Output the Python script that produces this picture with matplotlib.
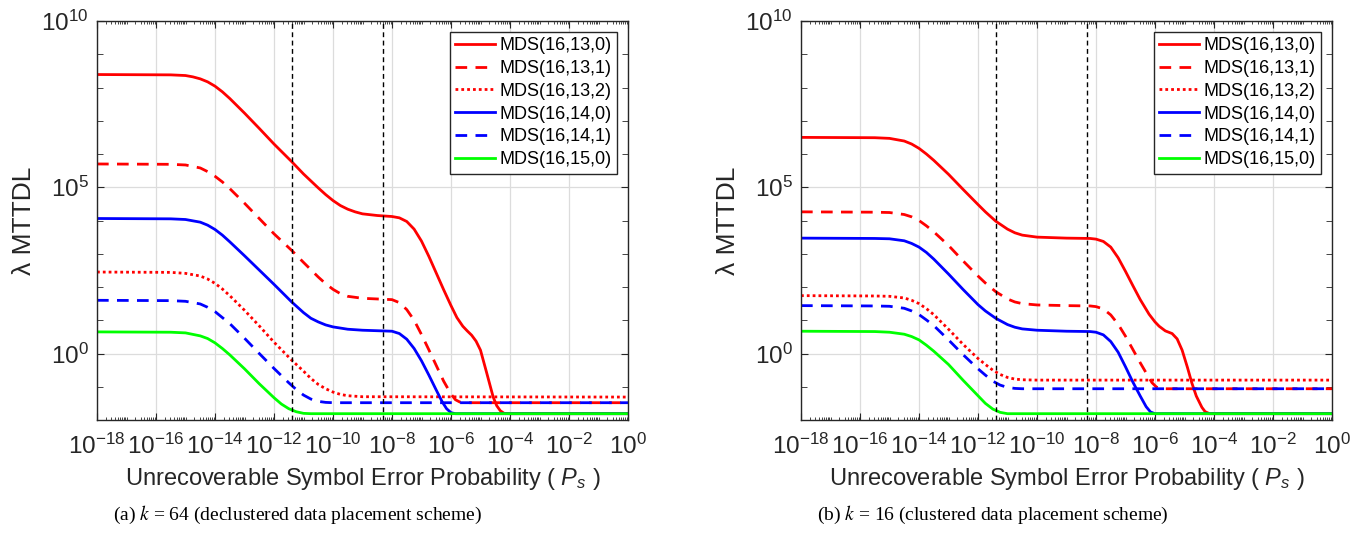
import numpy as np
import matplotlib
matplotlib.use("Agg")
import matplotlib.pyplot as plt
from matplotlib.ticker import FixedLocator, LogFormatterMathtext, NullFormatter

plt.rcParams['font.family'] = ['Liberation Sans', 'DejaVu Sans']
plt.rcParams['mathtext.fontset'] = 'custom'
plt.rcParams['mathtext.rm'] = 'Liberation Sans'
plt.rcParams['mathtext.it'] = 'Liberation Sans:italic'
plt.rcParams['mathtext.bf'] = 'Liberation Sans:bold'
plt.rcParams['axes.unicode_minus'] = False

# ---------------- data (log10 of Ps, log10 of lambda*MTTDL) ----------------
labels = ["MDS(16,13,0)", "MDS(16,13,1)", "MDS(16,13,2)",
          "MDS(16,14,0)", "MDS(16,14,1)", "MDS(16,15,0)"]
colors = ["#ff0000", "#ff0000", "#ff0000", "#0000ff", "#0000ff", "#00ff00"]
kinds = ["solid", "dash", "dot", "solid", "dash", "solid"]

# (a) k = 64, declustered
a_x_13_0 = [-18, -15.5, -15.0, -14.75, -14.5, -14.25, -14.0, -13.75, -13.5, -13.0, -12.5, -12.0, -11.4,
            -11.0, -10.5, -10.25, -10.0, -9.75, -9.5, -9.25, -9.0, -8.5, -8.0, -7.75, -7.5, -7.25, -7.0,
            -6.75, -6.5, -6.25, -6.0, -5.8, -5.6, -5.45, -5.3, -5.15, -5.0, -4.8, -4.57, -4.45, -4.33,
            -4.2, -4.0, 0]
a_y_13_0 = [8.39, 8.38, 8.36, 8.32, 8.26, 8.17, 8.04, 7.87, 7.67, 7.23, 6.77, 6.3, 5.77,
            5.4, 4.98, 4.78, 4.6, 4.45, 4.34, 4.26, 4.2, 4.15, 4.12, 4.08, 3.97, 3.74, 3.38,
            2.92, 2.42, 1.92, 1.44, 1.08, 0.82, 0.68, 0.55, 0.37, 0.1, -0.55, -1.31, -1.57, -1.72,
            -1.8, -1.81, -1.81]
a_x_13_1 = [-18, -15.5, -15.0, -14.5, -14.25, -14.0, -13.75, -13.5, -13.0, -12.5, -12.0, -11.4, -11.0,
            -10.75, -10.5, -10.25, -10.0, -9.75, -9.5, -9.0, -8.5, -8.0, -7.75, -7.5, -7.25, -7.0,
            -6.75, -6.5, -6.25, -6.0, -5.85, -5.7, -5.5, 0]
a_y_13_1 = [5.70, 5.69, 5.67, 5.58, 5.47, 5.33, 5.16, 4.96, 4.52, 4.06, 3.6, 3.1, 2.74,
            2.52, 2.3, 2.1, 1.93, 1.8, 1.72, 1.66, 1.64, 1.62, 1.53, 1.32, 1.0, 0.57,
            0.11, -0.36, -0.83, -1.22, -1.39, -1.46, -1.48, -1.48]
a_x_13_2 = [-18, -15.5, -15.0, -14.5, -14.25, -14.0, -13.75, -13.5, -13.0, -12.5, -12.0, -11.4, -11.0,
            -10.75, -10.5, -10.25, -10.0, -9.75, -9.5, -9.0, 0]
a_y_13_2 = [2.45, 2.44, 2.41, 2.33, 2.24, 2.11, 1.94, 1.74, 1.3, 0.83, 0.34, -0.2, -0.53,
            -0.75, -0.93, -1.06, -1.16, -1.23, -1.27, -1.3, -1.31]
a_x_14_0 = [-18, -15.5, -15.0, -14.5, -14.25, -14.0, -13.75, -13.5, -13.0, -12.5, -12.0, -11.4, -11.0,
            -10.75, -10.5, -10.25, -10.0, -9.5, -9.0, -8.0, -7.75, -7.5, -7.25, -7.0, -6.75, -6.5,
            -6.3, -6.15, -6.0, -5.85, 0]
a_y_14_0 = [4.06, 4.05, 4.03, 3.95, 3.86, 3.73, 3.56, 3.36, 2.94, 2.51, 2.08, 1.55, 1.23,
            1.06, 0.95, 0.86, 0.8, 0.73, 0.7, 0.67, 0.6, 0.43, 0.15, -0.22, -0.65, -1.1,
            -1.45, -1.66, -1.78, -1.81, -1.81]
a_x_14_1 = [-18, -15.5, -15.0, -14.5, -14.25, -14.0, -13.75, -13.5, -13.0, -12.5, -12.0, -11.5, -11.25,
            -11.0, -10.75, -10.5, -10.25, -10.0, 0]
a_y_14_1 = [1.60, 1.59, 1.57, 1.49, 1.39, 1.26, 1.08, 0.9, 0.46, 0.0, -0.45, -0.88, -1.08,
            -1.25, -1.37, -1.44, -1.47, -1.48, -1.48]
a_x_15_0 = [-18, -15.5, -15.0, -14.5, -14.25, -14.0, -13.75, -13.5, -13.0, -12.5, -12.0, -11.75, -11.5,
            -11.25, -11.0, -10.75, 0]
a_y_15_0 = [0.65, 0.64, 0.62, 0.53, 0.45, 0.32, 0.15, -0.04, -0.46, -0.91, -1.33, -1.52, -1.66,
            -1.75, -1.8, -1.81, -1.81]

# (b) k = 16, clustered
b_x_13_0 = [-18, -15.5, -15.0, -14.5, -14.25, -14.0, -13.75, -13.5, -13.0, -12.5, -12.0, -11.75, -11.4,
            -11.0, -10.75, -10.5, -10.0, -9.0, -8.2, -8.0, -7.75, -7.5, -7.25, -7.0, -6.75, -6.5,
            -6.2, -6.0, -5.86, -5.65, -5.42, -5.25, -5.08, -4.9, -4.75, -4.6, -4.41, -4.3, -4.15, 0]
b_y_13_0 = [6.50, 6.49, 6.47, 6.39, 6.3, 6.17, 6.0, 5.81, 5.39, 4.93, 4.48, 4.26, 3.98,
            3.74, 3.63, 3.56, 3.5, 3.47, 3.46, 3.44, 3.37, 3.2, 2.88, 2.47, 2.04, 1.62,
            1.18, 0.95, 0.82, 0.68, 0.6, 0.44, 0.1, -0.42, -0.89, -1.28, -1.62, -1.75, -1.81, -1.81]
b_x_13_1 = [-18, -15.5, -15.0, -14.5, -14.25, -14.0, -13.75, -13.5, -13.0, -12.5, -12.0, -11.75, -11.4,
            -11.0, -10.75, -10.5, -10.0, -9.0, -8.2, -8.0, -7.75, -7.5, -7.25, -7.0, -6.75, -6.5,
            -6.25, -6.1, -5.95, -5.8, 0]
b_y_13_1 = [4.26, 4.25, 4.24, 4.18, 4.11, 4.0, 3.84, 3.66, 3.25, 2.78, 2.33, 2.12, 1.86,
            1.64, 1.55, 1.5, 1.46, 1.44, 1.43, 1.41, 1.34, 1.16, 0.88, 0.52, 0.12, -0.28,
            -0.66, -0.88, -1.01, -1.06, -1.06]
b_x_13_2 = [-18, -15.5, -15.0, -14.5, -14.25, -14.0, -13.75, -13.5, -13.0, -12.5, -12.0, -11.75, -11.5,
            -11.25, -11.0, -10.75, -10.5, -10.0, 0]
b_y_13_2 = [1.74, 1.73, 1.72, 1.67, 1.6, 1.5, 1.35, 1.17, 0.73, 0.27, -0.15, -0.33, -0.5,
            -0.63, -0.72, -0.77, -0.79, -0.8, -0.8]
b_x_14_0 = [-18, -15.5, -15.0, -14.5, -14.25, -14.0, -13.75, -13.5, -13.0, -12.5, -12.0, -11.75, -11.4,
            -11.0, -10.75, -10.5, -10.0, -9.0, -8.2, -8.0, -7.75, -7.5, -7.25, -7.0, -6.75, -6.5,
            -6.3, -6.15, -6.0, 0]
b_y_14_0 = [3.47, 3.46, 3.45, 3.39, 3.31, 3.2, 3.04, 2.84, 2.39, 1.92, 1.47, 1.28, 1.06,
            0.87, 0.79, 0.74, 0.7, 0.67, 0.66, 0.64, 0.56, 0.36, 0.04, -0.4, -0.86, -1.28,
            -1.6, -1.76, -1.81, -1.81]
b_x_14_1 = [-18, -15.5, -15.0, -14.5, -14.25, -14.0, -13.75, -13.5, -13.0, -12.5, -12.0, -11.75, -11.5,
            -11.25, -11.0, -10.75, -10.5, 0]
b_y_14_1 = [1.44, 1.43, 1.42, 1.36, 1.28, 1.17, 1.01, 0.84, 0.41, -0.04, -0.46, -0.65, -0.83,
            -0.95, -1.02, -1.05, -1.06, -1.06]
b_x_15_0 = [-18, -15.5, -15.0, -14.5, -14.25, -14.0, -13.75, -13.5, -13.0, -12.5, -12.0, -11.75, -11.5,
            -11.25, -11.0, 0]
b_y_15_0 = [0.67, 0.66, 0.64, 0.58, 0.51, 0.41, 0.25, 0.07, -0.33, -0.81, -1.27, -1.5, -1.67,
            -1.77, -1.81, -1.81]

vlines_ps = [4e-12, 5e-9]
captions = ["(a) $k$ = 64 (declustered data placement scheme)",
            "(b) $k$ = 16 (clustered data placement scheme)"]
xlabel = "Unrecoverable Symbol Error Probability ( $P_s$ )"
ylabel = "\u03bb MTTDL"

panel_a = [(a_x_13_0, a_y_13_0), (a_x_13_1, a_y_13_1), (a_x_13_2, a_y_13_2),
           (a_x_14_0, a_y_14_0), (a_x_14_1, a_y_14_1), (a_x_15_0, a_y_15_0)]
panel_b = [(b_x_13_0, b_y_13_0), (b_x_13_1, b_y_13_1), (b_x_13_2, b_y_13_2),
           (b_x_14_0, b_y_14_0), (b_x_14_1, b_y_14_1), (b_x_15_0, b_y_15_0)]

# ---------------- drawing ----------------
W, H = 1365, 540
fig = plt.figure(figsize=(W / 100, H / 100), dpi=100)
dash_map = {"solid": "-", "dash": (0, (4.2, 3)), "dot": (0, (1, 1.1))}
axcol = "#262626"

xmaj = [10.0 ** e for e in range(-18, 1, 2)]
xmin = [m * 10.0 ** e for e in range(-18, 0) for m in range(1, 10) if not (m == 1 and e % 2 == 0)]
ymaj = [1e0, 1e5, 1e10]
ymin = [10.0 ** e for e in range(-2, 11) if e % 5 != 0]

lefts = [97, 801]
for i, (panel, left) in enumerate(zip([panel_a, panel_b], lefts)):
    ax = fig.add_axes([left / W, (H - 420) / H, 531 / W, 399 / H])
    ax.set_xscale("log")
    ax.set_yscale("log")
    for (xs, ys), lab, c, k in zip(panel, labels, colors, kinds):
        ax.plot(np.power(10.0, xs), np.power(10.0, ys), color=c, lw=2.0,
                linestyle=dash_map[k], label=lab)
    for v in vlines_ps:
        ax.axvline(v, color="black", lw=1.0, linestyle=(0, (3.5, 2.5)))
    ax.set_xlim(1e-18, 1)
    ax.set_ylim(1e-2, 1e10)
    ax.xaxis.set_major_locator(FixedLocator(xmaj))
    ax.xaxis.set_minor_locator(FixedLocator(xmin))
    ax.yaxis.set_major_locator(FixedLocator(ymaj))
    ax.yaxis.set_minor_locator(FixedLocator(ymin))
    ax.xaxis.set_major_formatter(LogFormatterMathtext())
    ax.yaxis.set_major_formatter(LogFormatterMathtext())
    ax.xaxis.set_minor_formatter(NullFormatter())
    ax.yaxis.set_minor_formatter(NullFormatter())
    ax.tick_params(which="both", direction="in", top=True, right=True, color=axcol)
    ax.tick_params(which="major", length=5, width=0.8, labelsize=17.5, labelcolor="#262626")
    ax.xaxis.set_tick_params(which="minor", length=2.5, width=0.6)
    ax.yaxis.set_tick_params(which="minor", length=4, width=0.6)
    ax.tick_params(axis="x", which="major", pad=10)
    ax.tick_params(axis="y", which="major", pad=6)
    ax.grid(True, which="major", color="#dcdcdc", lw=0.9)
    ax.set_axisbelow(True)
    for sp in ax.spines.values():
        sp.set_color(axcol)
        sp.set_linewidth(1.0)
    ax.set_xlabel(xlabel, fontsize=17, color="#262626", labelpad=5)
    ax.set_ylabel(ylabel, fontsize=19, color="#262626", labelpad=4)
    leg = ax.legend(loc="upper right", fontsize=13, frameon=True, fancybox=False,
                    edgecolor=axcol, framealpha=1, handlelength=2.2, handletextpad=0.25,
                    labelspacing=0.32, borderpad=0.3, borderaxespad=0.6)
    leg.get_frame().set_linewidth(1.0)
    fig.text((left + 16) / W, 1 - 515 / H, captions[i], ha="left", va="center",
             fontsize=14, family="Liberation Serif", math_fontfamily="stix")

fig.savefig("out.png", dpi=100)
